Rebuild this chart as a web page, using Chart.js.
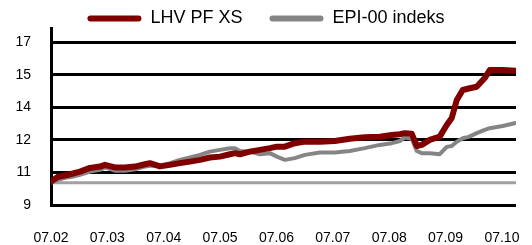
<!DOCTYPE html>
<html>
<head>
<meta charset="utf-8">
<script src="https://cdn.jsdelivr.net/npm/chart.js@4"></script>
<style>
  body { margin: 0; background: #fff; }
  #wrap { width: 532px; height: 245px; }
</style>
</head>
<body>
<div id="wrap"><canvas id="grafico" width="532" height="245"></canvas></div>
<script>
// kuu sildid x-teljel
const xLabels = ['07.02', '07.03', '07.04', '07.05', '07.06', '07.07', '07.08', '07.09', '07.10']
const xMax = 8.25

// aeg kuudes alates 07.02
const monthPos = [0, 0.124, 0.248, 0.372, 0.514, 0.691, 0.869, 0.957, 1.135, 1.312,
  1.489, 1.667, 1.755, 1.933, 2.110, 2.287, 2.465, 2.642, 2.819, 2.996,
  3.174, 3.262, 3.351, 3.528, 3.706, 3.883, 4.007, 4.149, 4.326, 4.504,
  4.770, 5.035, 5.301, 5.567, 5.833, 6.046, 6.188, 6.277, 6.401, 6.489,
  6.578, 6.720, 6.897, 7.021, 7.110, 7.199, 7.305, 7.411, 7.553, 7.695,
  7.784, 8.014, 8.245]

const lhv = [10.28, 10.50, 10.56, 10.64, 10.74, 10.91, 10.97, 11.05, 10.93, 10.93,
  10.97, 11.08, 11.13, 10.98, 11.05, 11.13, 11.20, 11.28, 11.39, 11.43,
  11.54, 11.59, 11.54, 11.66, 11.74, 11.82, 11.89, 11.89, 12.05, 12.12,
  12.12, 12.15, 12.25, 12.32, 12.35, 12.43, 12.46, 12.51, 12.48, 11.92,
  11.97, 12.20, 12.35, 12.89, 13.21, 14.04, 14.50, 14.57, 14.65, 15.05,
  15.42, 15.42, 15.39]

const epi = [10.25, 10.36, 10.45, 10.50, 10.59, 10.74, 10.82, 10.93, 10.78, 10.78,
  10.85, 10.97, 11.01, 11.01, 11.13, 11.28, 11.39, 11.51, 11.66, 11.74,
  11.82, 11.82, 11.69, 11.66, 11.54, 11.59, 11.43, 11.28, 11.36, 11.51,
  11.62, 11.62, 11.69, 11.82, 11.97, 12.05, 12.15, 12.31, 12.25, 11.69,
  11.59, 11.59, 11.54, 11.88, 11.92, 12.12, 12.28, 12.34, 12.51, 12.66,
  12.74, 12.84, 12.98]

const baseLevel = 10.22

const yTickVals = [9.2, 10.7, 12.2, 13.7, 15.2, 16.7]
const yTickLabels = ['9', '11', '12', '14', '15', '17']

const toPoints = arr => arr.map((v, i) => ({ x: monthPos[i], y: v }))

const fontFam = "'Liberation Sans', Arial, sans-serif"

const legendFix = {
  id: 'legendFix',
  beforeInit(chart) {
    const origFit = chart.legend.fit
    chart.legend.fit = function () {
      origFit.call(this)
      this.height = 28
    }
  },
  afterLayout(chart) {
    chart.legend.top = -17.5
  }
}

const ctx = document.getElementById('grafico')
let grafico = new Chart(ctx, {
  type: 'line',
  data: {
    datasets: [{
      label: 'LHV PF XS',
      data: toPoints(lhv),
      borderColor: '#800000',
      backgroundColor: '#800000',
      borderWidth: 6,
      pointRadius: 0,
      tension: 0,
      borderJoinStyle: 'round',
      borderCapStyle: 'round'
    }, {
      label: 'EPI-00 indeks',
      data: toPoints(epi),
      borderColor: '#858585',
      backgroundColor: '#858585',
      borderWidth: 4,
      pointRadius: 0,
      tension: 0,
      borderJoinStyle: 'round',
      borderCapStyle: 'round'
    }, {
      label: 'baas',
      data: [{ x: 0, y: baseLevel }, { x: xMax, y: baseLevel }],
      borderColor: '#a0a0a0',
      borderWidth: 3,
      pointRadius: 0
    }]
  },
  options: {
    responsive: false,
    animation: false,
    layout: { padding: 0 },
    plugins: {
      tooltip: { enabled: false },
      legend: {
        position: 'top',
        labels: {
          font: { family: fontFam, size: 18 },
          color: '#000',
          boxWidth: 54,
          boxHeight: 6,
          padding: 27,
          generateLabels: chart => chart.data.datasets.slice(0, 2).map((ds, i) => ({
            text: ds.label,
            fillStyle: ds.borderColor,
            strokeStyle: ds.borderColor,
            lineWidth: 0,
            borderRadius: 3,
            hidden: false,
            datasetIndex: i
          }))
        }
      }
    },
    scales: {
      x: {
        type: 'linear',
        min: 0,
        max: xMax,
        grid: { display: false, drawTicks: false },
        border: { display: false },
        afterBuildTicks: s => { s.ticks = xLabels.map((l, i) => ({ value: i })) },
        afterFit: s => {
          s.height = 40
          s.paddingLeft = 0
          s.paddingRight = 16
        },
        ticks: {
          padding: 25,
          maxRotation: 0,
          autoSkip: false,
          color: '#000',
          font: { family: fontFam, size: 14 },
          callback: (v, i) => xLabels[i]
        }
      },
      y: {
        min: 9.2,
        max: 17.34,
        grid: { color: '#000', lineWidth: 3, drawTicks: false },
        border: { display: true, color: '#000', width: 3 },
        afterBuildTicks: s => { s.ticks = yTickVals.map(v => ({ value: v })) },
        afterFit: s => { s.width = 51 },
        ticks: {
          padding: 20,
          color: '#000',
          font: { family: fontFam, size: 14 },
          callback: (v, i) => yTickLabels[i]
        }
      }
    }
  },
  plugins: [legendFix]
});
</script>
</body>
</html>
